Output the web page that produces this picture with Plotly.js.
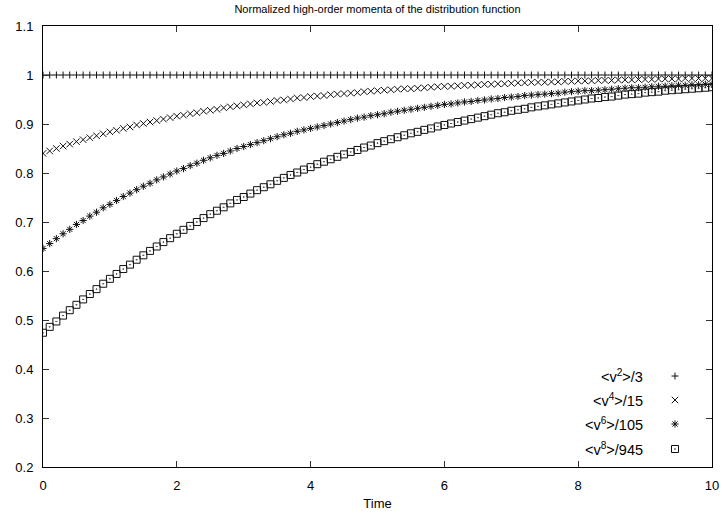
<!DOCTYPE html>
<html>
<head>
<meta charset="utf-8">
<script src="https://cdn.plot.ly/plotly-3.0.1.min.js"></script>
<style>html,body{margin:0;padding:0;background:#fff;}#chart{width:724px;height:517px;}</style>
</head>
<body>
<div id="chart"></div>
<script>
// ---- data ----
const time = [0,0.1,0.2,0.3,0.4,0.5,0.6,0.7,0.8,0.9,
  1,1.1,1.2,1.3,1.4,1.5,1.6,1.7,1.8,1.9,
  2,2.1,2.2,2.3,2.4,2.5,2.6,2.7,2.8,2.9,
  3,3.1,3.2,3.3,3.4,3.5,3.6,3.7,3.8,3.9,
  4,4.1,4.2,4.3,4.4,4.5,4.6,4.7,4.8,4.9,
  5,5.1,5.2,5.3,5.4,5.5,5.6,5.7,5.8,5.9,
  6,6.1,6.2,6.3,6.4,6.5,6.6,6.7,6.8,6.9,
  7,7.1,7.2,7.3,7.4,7.5,7.6,7.7,7.8,7.9,
  8,8.1,8.2,8.3,8.4,8.5,8.6,8.7,8.8,8.9,
  9,9.1,9.2,9.3,9.4,9.5,9.6,9.7,9.8,9.9,
  10];

const v2 = [1,1,1,1,1,1,1,1,1,1,
  1,1,1,1,1,1,1,1,1,1,
  1,1,1,1,1,1,1,1,1,1,
  1,1,1,1,1,1,1,1,1,1,
  1,1,1,1,1,1,1,1,1,1,
  1,1,1,1,1,1,1,1,1,1,
  1,1,1,1,1,1,1,1,1,1,
  1,1,1,1,1,1,1,1,1,1,
  1,1,1,1,1,1,1,1,1,1,
  1,1,1,1,1,1,1,1,1,1,
  1];

const v4 = [0.840,0.845,0.850,0.855,0.859,0.864,0.868,0.872,0.876,0.880,
  0.884,0.887,0.891,0.894,0.898,0.901,0.904,0.907,0.910,0.913,
  0.916,0.918,0.921,0.923,0.926,0.928,0.930,0.933,0.935,0.937,
  0.939,0.941,0.943,0.944,0.946,0.948,0.949,0.951,0.953,0.954,
  0.956,0.957,0.958,0.960,0.961,0.962,0.963,0.964,0.966,0.967,
  0.968,0.969,0.970,0.971,0.972,0.972,0.973,0.974,0.975,0.976,
  0.977,0.977,0.978,0.979,0.979,0.980,0.981,0.981,0.982,0.982,
  0.983,0.984,0.984,0.985,0.985,0.985,0.986,0.986,0.987,0.987,
  0.988,0.988,0.988,0.989,0.989,0.989,0.990,0.990,0.990,0.991,
  0.991,0.991,0.992,0.992,0.992,0.992,0.993,0.993,0.993,0.993,
  0.993];

const v6 = [0.646,0.656,0.666,0.676,0.685,0.695,0.703,0.712,0.720,0.729,
  0.736,0.744,0.752,0.759,0.766,0.773,0.779,0.786,0.792,0.798,
  0.804,0.809,0.815,0.820,0.826,0.831,0.836,0.840,0.845,0.850,
  0.854,0.858,0.862,0.866,0.870,0.874,0.878,0.881,0.885,0.888,
  0.891,0.894,0.897,0.900,0.903,0.906,0.909,0.912,0.914,0.917,
  0.919,0.921,0.924,0.926,0.928,0.930,0.932,0.934,0.936,0.938,
  0.940,0.941,0.943,0.945,0.946,0.948,0.949,0.951,0.952,0.954,
  0.955,0.956,0.958,0.959,0.960,0.961,0.962,0.963,0.965,0.966,
  0.967,0.968,0.968,0.969,0.970,0.971,0.972,0.973,0.974,0.974,
  0.975,0.976,0.977,0.977,0.978,0.979,0.979,0.980,0.980,0.981,
  0.981];

const v8 = [0.474,0.486,0.497,0.509,0.520,0.531,0.542,0.553,0.563,0.574,
  0.584,0.594,0.604,0.613,0.623,0.632,0.641,0.650,0.659,0.667,
  0.676,0.684,0.692,0.700,0.708,0.716,0.723,0.730,0.738,0.745,
  0.751,0.758,0.765,0.771,0.777,0.784,0.790,0.796,0.801,0.807,
  0.812,0.818,0.823,0.828,0.833,0.838,0.843,0.847,0.852,0.856,
  0.861,0.865,0.869,0.873,0.877,0.881,0.884,0.888,0.891,0.895,
  0.898,0.901,0.904,0.907,0.910,0.913,0.916,0.919,0.922,0.924,
  0.927,0.929,0.931,0.934,0.936,0.938,0.940,0.942,0.944,0.946,
  0.948,0.950,0.952,0.953,0.955,0.956,0.958,0.960,0.961,0.962,
  0.964,0.965,0.966,0.968,0.969,0.970,0.971,0.972,0.973,0.974,
  0.975];

const seriesNames = ['&lt;v<sup>2</sup>&gt;/3', '&lt;v<sup>4</sup>&gt;/15', '&lt;v<sup>6</sup>&gt;/105', '&lt;v<sup>8</sup>&gt;/945'];
const seriesValues = [v2, v4, v6, v8];
const chartTitle = 'Normalized high-order momenta of the distribution function';
const xTitle = 'Time';

// ---- styles ----
const FONT = 'Liberation Sans, Arial, Helvetica, sans-serif';
const INK = '#111';
const symbols = [
  {symbol: 'cross-thin-open', size: 5},
  {symbol: 'x-thin-open', size: 6.5},
  {symbol: 'asterisk-open', size: 6},
  {symbol: 'square-open-dot', size: 7}
];

const traces = seriesValues.map((vals, i) => ({
  type: 'scatter', mode: 'markers', x: time, y: vals, name: seriesNames[i],
  showlegend: false, hoverinfo: 'skip',
  marker: {symbol: symbols[i].symbol, size: symbols[i].size, color: INK,
           line: {color: INK, width: 1}}
}));

// legend keys drawn gnuplot-style (text left, symbol right) in plot-fraction coordinates
const keyX = 0.9447, keyTextX = 0.8999;
const keyRows = [0.2063, 0.1519, 0.0975, 0.0408];
seriesValues.forEach((vals, i) => {
  traces.push({
    type: 'scatter', mode: 'markers', x: [keyX], y: [keyRows[i]], xaxis: 'x2', yaxis: 'y2',
    showlegend: false, hoverinfo: 'skip',
    marker: {symbol: symbols[i].symbol, size: symbols[i].size, color: INK,
             line: {color: INK, width: 1}}
  });
});

const annotations = seriesNames.map((n, i) => ({
  xref: 'paper', yref: 'paper', x: keyTextX, y: keyRows[i], xanchor: 'right', yanchor: 'middle',
  text: n, showarrow: false, font: {family: FONT, size: 14.5, color: '#000'}
}));

const axisCommon = {
  showgrid: false, zeroline: false, showline: true, mirror: 'ticks',
  linecolor: '#000', linewidth: 1, ticks: 'inside', ticklen: 6, tickwidth: 1, tickcolor: '#333',
  tickfont: {family: FONT, size: 13, color: '#000'}
};

const layout = {
  width: 724, height: 517,
  margin: {l: 43, r: 12, t: 26, b: 50, pad: 0},
  paper_bgcolor: '#fff', plot_bgcolor: '#fff',
  showlegend: false,
  title: {text: chartTitle, x: 0.5, xref: 'paper', xanchor: 'center', y: 0.983, yref: 'container', yanchor: 'middle',
          font: {family: FONT, size: 11, color: '#000'}},
  xaxis: Object.assign({}, axisCommon, {range: [0, 10], tickmode: 'linear', tick0: 0, dtick: 2,
          ticklabelstandoff: 6,
          title: {text: xTitle, standoff: 7, font: {family: FONT, size: 13, color: '#000'}}}),
  yaxis: Object.assign({}, axisCommon, {range: [0.2, 1.1], tickmode: 'linear', tick0: 0.2, dtick: 0.1,
          ticklabelstandoff: 6}),
  xaxis2: {overlaying: 'x', range: [0, 1], visible: false, fixedrange: true},
  yaxis2: {overlaying: 'y', range: [0, 1], visible: false, fixedrange: true},
  annotations: annotations
};

Plotly.newPlot('chart', traces, layout, {staticPlot: true, displayModeBar: false});
</script>
</body>
</html>
